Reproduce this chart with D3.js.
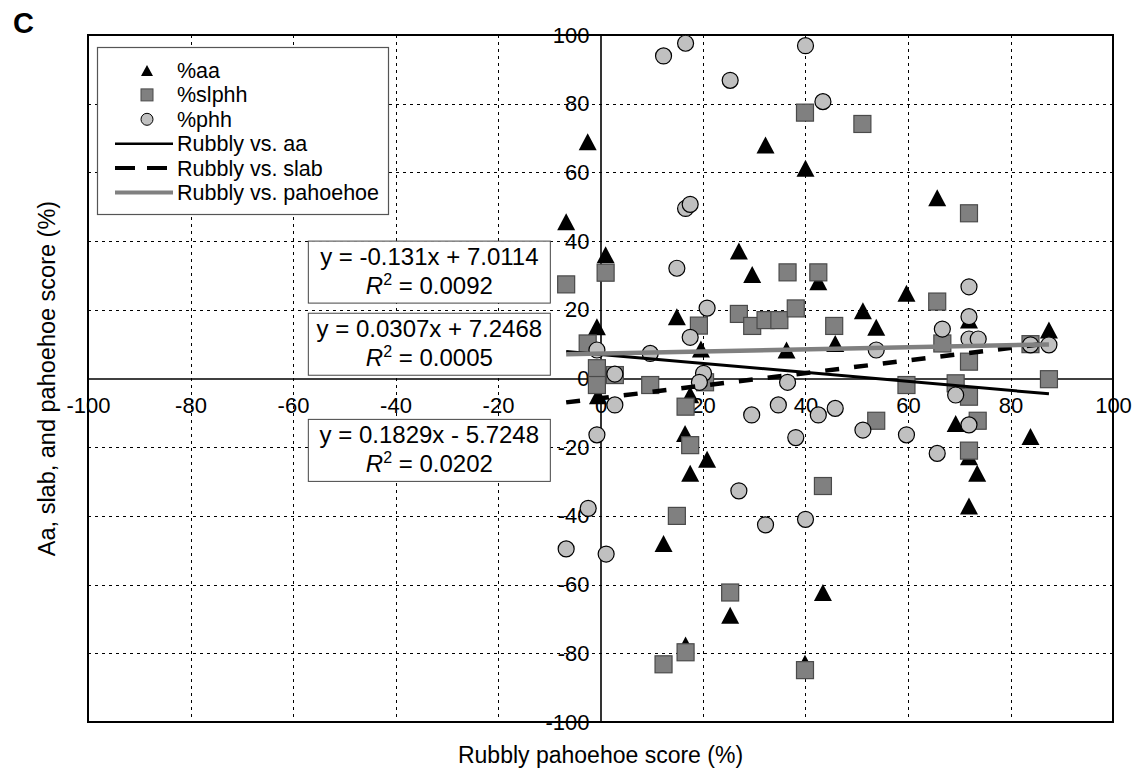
<!DOCTYPE html>
<html>
<head>
<meta charset="utf-8">
<script src="https://cdn.jsdelivr.net/npm/d3@7"></script>
<style>
  body { margin: 0; background: #fff; }
  svg { font-family: Arial, "Liberation Sans", sans-serif; }
</style>
</head>
<body>
<div id="chart"></div>
<script>
// Data: [rubbly score, value]
const aaPoints = [
  [-6.7, 45.6], [-2.5, 68.9], [1.0, 36], [-0.7, 15.1], [-0.5, -5],
  [14.9, 18.0], [19.6, 8.6], [17.5, -4.7], [16.5, -16.0], [17.5, -27.6],
  [20.8, -23.5], [12.3, -48.0], [25.3, -68.9], [16.6, -77.6], [27.0, 37.1],
  [29.6, 30.3], [32.2, 68], [40.0, 61.2], [42.5, 28.2], [36.3, 8.3],
  [45.8, 10.2], [43.4, -62.3], [39.9, -82.9], [51.2, 19.7], [53.8, 14.9],
  [59.7, 24.8], [65.7, 52.6], [71.9, 17.0], [69.3, -13.1], [71.9, -22.8],
  [73.5, -27.6], [71.9, -37.1], [83.9, -16.9], [87.5, 14.1]
];
const slabPoints = [
  [-6.7, 27.4], [1.0, 30.8], [-2.5, 10.2], [-0.7, 3.0], [-0.7, -1.9],
  [2.8, 1.0], [9.7, -1.9], [19.2, 15.4], [20.4, -1.1], [16.6, -8.2],
  [17.5, -19.4], [14.9, -40.0], [25.3, -62.3], [16.6, -79.7], [12.3, -83.2],
  [27.0, 18.8], [29.6, 15.3], [32.2, 17.0], [34.9, 17.0], [38.1, 20.4],
  [36.5, 30.9], [42.5, 30.9], [45.6, 15.3], [39.9, 77.4], [51.1, 74.1],
  [43.4, -31.3], [39.9, -84.9], [53.8, -12.3], [59.7, -1.9], [65.7, 22.4],
  [66.7, 10.2], [71.9, 48.1], [71.9, 4.9], [69.3, -1.4], [71.9, -5.3],
  [73.6, -12.3], [71.9, -21.0], [83.9, 10.0], [87.5, -0.2]
];
const phhPoints = [
  [-6.7, -49.6], [-2.4, -37.8], [1.1, -51.1], [-0.7, -16.4], [-0.7, 8.3],
  [2.8, 1.3], [2.8, -7.7], [9.7, 7.3], [12.3, 93.9], [16.6, 97.6],
  [25.3, 86.8], [16.6, 49.5], [17.5, 50.7], [14.9, 32.1], [20.8, 20.5],
  [17.5, 12.0], [20.1, 1.5], [19.3, -1.1], [36.5, -1.1], [29.5, -10.6],
  [34.7, -7.7], [27.0, -32.7], [32.2, -42.6], [38.1, -17.2], [40.0, -41.0],
  [40.0, 96.9], [43.4, 80.6], [42.5, -10.6], [45.8, -8.7], [53.8, 8.3],
  [51.2, -15.0], [59.7, -16.4], [65.7, -21.8], [66.7, 14.4], [69.3, -4.8],
  [71.9, 26.7], [71.9, 18.0], [71.9, 11.5], [73.7, 11.5], [71.9, -13.5],
  [83.9, 9.8], [87.5, 9.8]
];

// trendlines: [slope, intercept, R2]
const fitAa = [-0.131, 7.0114, 0.0092];
const fitSlab = [0.1829, -5.7248, 0.0202];
const fitPhh = [0.0307, 7.2468, 0.0005];
const fitRange = [-6.7, 87.5];

const tickValues = [-100, -80, -60, -40, -20, 0, 20, 40, 60, 80, 100];
const tickLabels = ['-100', '-80', '-60', '-40', '-20', '0', '20', '40', '60', '80', '100'];
const legendLabels = ['%aa', '%slphh', '%phh', 'Rubbly vs. aa', 'Rubbly vs. slab', 'Rubbly vs. pahoehoe'];

const width = 1134;
const height = 774;
const margin = { top: 35, right: 21, bottom: 52, left: 88 };

const svg = d3.select('#chart')
  .append('svg')
  .attr('width', width)
  .attr('height', height);

const x = d3.scaleLinear().domain([-100, 100]).range([margin.left, width - margin.right]);
const y = d3.scaleLinear().domain([-100, 100]).range([height - margin.bottom, margin.top]);

// gridlines
const grid = svg.append('g')
  .attr('stroke', '#000')
  .attr('stroke-width', 1)
  .attr('stroke-dasharray', '3,4');
grid.selectAll('.vg')
  .data(tickValues.filter(d => Math.abs(d) !== 100 && d !== 0))
  .enter().append('line')
  .attr('x1', d => Math.round(x(d)) + 0.5).attr('x2', d => Math.round(x(d)) + 0.5)
  .attr('y1', y(100)).attr('y2', y(-100));
grid.selectAll('.hg')
  .data(tickValues.filter(d => Math.abs(d) !== 100 && d !== 0))
  .enter().append('line')
  .attr('y1', d => Math.round(y(d)) + 0.5).attr('y2', d => Math.round(y(d)) + 0.5)
  .attr('x1', x(-100)).attr('x2', x(100));

// frame
svg.append('rect')
  .attr('x', x(-100)).attr('y', y(100))
  .attr('width', x(100) - x(-100)).attr('height', y(-100) - y(100))
  .attr('fill', 'none').attr('stroke', '#000').attr('stroke-width', 2);

// zero axes
const fmt = d => tickLabels[tickValues.indexOf(d)];
const xAxis = svg.append('g')
  .attr('transform', `translate(0,${y(0)})`)
  .call(d3.axisBottom(x).tickValues(tickValues).tickFormat(fmt).tickSize(0).tickPadding(18.5));
const yAxis = svg.append('g')
  .attr('transform', `translate(${x(0)},0)`)
  .call(d3.axisLeft(y).tickValues(tickValues).tickFormat(fmt).tickSize(0).tickPadding(11));
[xAxis, yAxis].forEach(a => {
  a.select('.domain').attr('stroke', '#000').attr('stroke-width', 1.6);
  a.selectAll('text')
    .attr('fill', '#000')
    .style('font-size', '22px')
    .style('font-family', 'Arial, "Liberation Sans", sans-serif');
});

// markers
const triPath = 'M0,-8.5L9,8.5L-9,8.5Z';
svg.append('g').selectAll('path')
  .data(aaPoints)
  .enter().append('path')
  .attr('d', triPath)
  .attr('transform', d => `translate(${x(d[0])},${y(d[1])})`)
  .attr('fill', '#000');

svg.append('g').selectAll('rect')
  .data(slabPoints)
  .enter().append('rect')
  .attr('x', d => x(d[0]) - 8.5)
  .attr('y', d => y(d[1]) - 8.5)
  .attr('width', 17).attr('height', 17)
  .attr('fill', '#808080')
  .attr('stroke', '#4a4a4a')
  .attr('stroke-width', 1.2);

svg.append('g').selectAll('circle')
  .data(phhPoints)
  .enter().append('circle')
  .attr('cx', d => x(d[0]))
  .attr('cy', d => y(d[1]))
  .attr('r', 8)
  .attr('fill', '#c0c0c0')
  .attr('stroke', '#000')
  .attr('stroke-width', 1.2);

// trendlines
const trend = [
  { fit: fitAa, stroke: '#000', w: 3, dash: null },
  { fit: fitSlab, stroke: '#000', w: 4.5, dash: '14,15' },
  { fit: fitPhh, stroke: '#808080', w: 4.5, dash: null }
];
trend.forEach(t => {
  const ends = fitRange.map(v => [v, t.fit[0] * v + t.fit[1]]);
  svg.append('path')
    .attr('d', d3.line().x(d => x(d[0])).y(d => y(d[1]))(ends))
    .attr('fill', 'none')
    .attr('stroke', t.stroke)
    .attr('stroke-width', t.w)
    .attr('stroke-dasharray', t.dash);
});

// equation boxes
const fmtEq = f => `y = ${f[0]}x ${f[1] < 0 ? '-' : '+'} ${Math.abs(f[1]).toFixed(4)}`;
const eqBoxes = [
  { fit: fitAa, top: 40 },
  { fit: fitPhh, top: 19 },
  { fit: fitSlab, top: -11.9 }
];
eqBoxes.forEach(b => {
  const cx = x(-33.4);
  const top = y(b.top);
  const g = svg.append('g');
  g.append('rect')
    .attr('x', cx - 121).attr('y', top)
    .attr('width', 242).attr('height', 62)
    .attr('fill', '#fff').attr('stroke', '#444').attr('stroke-width', 1);
  g.append('text')
    .attr('x', cx).attr('y', top + 24)
    .attr('text-anchor', 'middle')
    .style('font-size', '24px')
    .text(fmtEq(b.fit));
  const t2 = g.append('text')
    .attr('x', cx).attr('y', top + 53)
    .attr('text-anchor', 'middle')
    .style('font-size', '24px');
  t2.append('tspan').attr('font-style', 'italic').text('R');
  t2.append('tspan').attr('dy', -9).style('font-size', '16px').text('2');
  t2.append('tspan').attr('dy', 9).text(' = ' + b.fit[2].toFixed(4));
});

// legend
const lg = svg.append('g');
lg.append('rect')
  .attr('x', 97.5).attr('y', 47.5)
  .attr('width', 291).attr('height', 167)
  .attr('fill', '#fff').attr('stroke', '#555').attr('stroke-width', 1.2);
const rowY = i => 70.5 + i * 24.4;
lg.append('path').attr('d', 'M0,-5.5L6,5.5L-6,5.5Z')
  .attr('transform', `translate(147,${rowY(0)})`).attr('fill', '#000');
lg.append('rect').attr('x', 141).attr('y', rowY(1) - 6).attr('width', 12).attr('height', 12)
  .attr('fill', '#808080').attr('stroke', '#4a4a4a');
lg.append('circle').attr('cx', 147).attr('cy', rowY(2)).attr('r', 6)
  .attr('fill', '#c0c0c0').attr('stroke', '#000');
trend.forEach((t, i) => {
  lg.append('line')
    .attr('x1', 115).attr('x2', 173)
    .attr('y1', rowY(i + 3)).attr('y2', rowY(i + 3))
    .attr('stroke', t.stroke)
    .attr('stroke-width', i === 0 ? 2.5 : 4)
    .attr('stroke-dasharray', i === 1 ? '20,12' : null);
});
lg.selectAll('text.lab')
  .data(legendLabels)
  .enter().append('text')
  .attr('x', 177)
  .attr('y', (d, i) => rowY(i))
  .attr('dy', '0.35em')
  .style('font-size', '21.5px')
  .text(d => d);

// axis titles
svg.append('text')
  .attr('x', x(0)).attr('y', 763)
  .attr('text-anchor', 'middle')
  .style('font-size', '23px')
  .text('Rubbly pahoehoe score (%)');
svg.append('text')
  .attr('transform', `translate(55,${y(0)}) rotate(-90)`)
  .attr('text-anchor', 'middle')
  .style('font-size', '23.5px')
  .text('Aa, slab, and pahoehoe score (%)');

svg.append('text')
  .attr('x', 13).attr('y', 33)
  .style('font-size', '29px')
  .style('font-weight', 'bold')
  .text('C');
</script>
</body>
</html>
